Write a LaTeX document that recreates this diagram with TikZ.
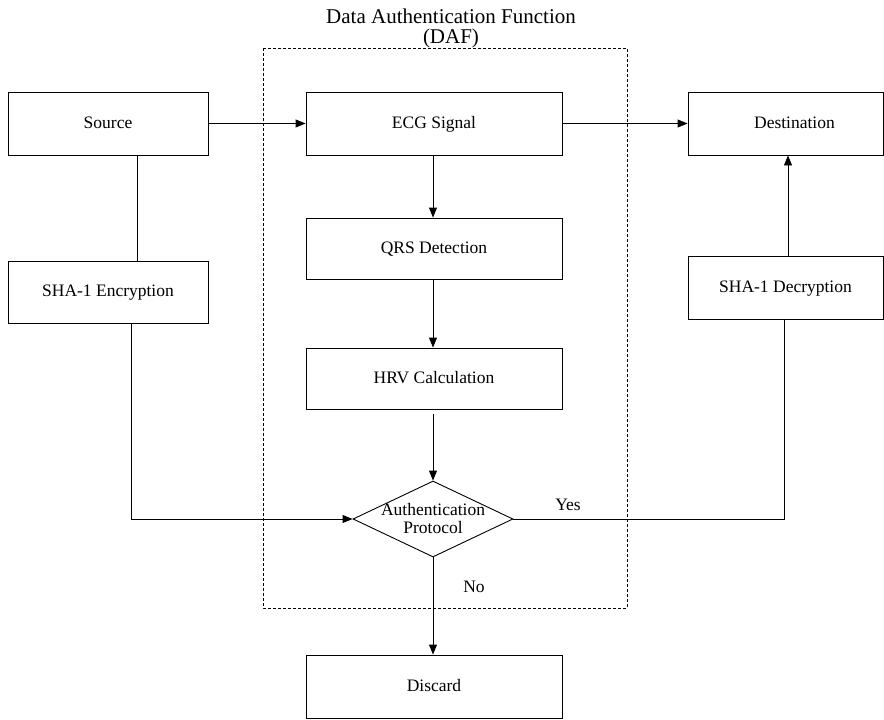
\documentclass[tikz,border=0pt]{standalone}
\usepackage{fontspec}
\setmainfont{Liberation Serif}
\usetikzlibrary{shapes.geometric,arrows.meta}
\begin{document}
\begin{tikzpicture}[x=1pt,y=-1pt,
  box/.style={draw,line width=0.9pt,minimum height=63pt,inner sep=0pt,text height=12pt,text depth=3pt,font=\fontsize{17.5}{20}\selectfont},
  conn/.style={line width=0.9pt},
  arr/.style={conn,-{Triangle[length=10pt,width=8pt]}},
  lbl/.style={font=\fontsize{17.5}{20}\selectfont,inner sep=0pt},
  frame/.style={draw,line width=0.8pt,dash pattern=on 3pt off 2pt}]
\useasboundingbox (0,0) rectangle (884,720);
% dashed DAF frame
\draw[frame] (263,48) rectangle (627,608);
\node[lbl,font=\fontsize{21}{20}\selectfont,align=center] (title) at (451,28) {Data Authentication Function\\(DAF)};
% boxes
\node[box,minimum width=200pt] (src) at (108,123.5) {Source};
\node[box,minimum width=256pt] (ecg) at (434,123.5) {ECG Signal};
\node[box,minimum width=195pt] (dest) at (785.5,123.5) {\hspace*{18pt}Destination};
\node[box,minimum width=256pt,minimum height=61pt] (qrs) at (434,248.5) {QRS Detection};
\node[box,minimum width=256pt,minimum height=61pt] (hrv) at (434,378.5) {HRV Calculation};
\node[box,minimum width=200pt,minimum height=62pt] (enc) at (108,292) {SHA-1 Encryption};
\node[box,minimum width=195pt] (dec) at (785.5,287.5) {SHA-1 Decryption};
\node[box,minimum width=256pt] (disc) at (434,686.5) {Discard};
\node[draw,diamond,line width=0.9pt,aspect=2.1,minimum width=160pt,minimum height=76pt,inner sep=0pt] (dia) at (433,519) {};
\node[lbl,align=center,font=\fontsize{17.5}{18}\selectfont] (diatext) at (433,519) {Authentication\\Protocol};
\node[lbl] (yes) at (568,505) {Yes};
\node[lbl] (no) at (474,587) {No};
% helper x positions
\coordinate (c1) at (137,0);
\coordinate (c2) at (131,0);
\coordinate (c3) at (784,0);
\coordinate (c4) at (788,0);
\coordinate (c5) at (433,0);
% connectors
\draw[arr] (src.east) -- (ecg.west);
\draw[arr] (ecg.east) -- (dest.west);
\draw[arr] (ecg.south -| c5) -- (qrs.north -| c5);
\draw[arr] (qrs.south -| c5) -- (hrv.north -| c5);
\draw[arr,shorten <=5pt] (hrv.south -| c5) -- (dia.north);
\draw[arr] (dia.south) -- (disc.north -| c5);
\draw[conn] (src.south -| c1) -- (enc.north -| c1);
\draw[arr] (enc.south -| c2) |- (dia.west);
\draw[conn] (dia.east) -| (dec.south -| c3);
\draw[arr] (dec.north -| c4) -- (dest.south -| c4);
\end{tikzpicture}
\end{document}
